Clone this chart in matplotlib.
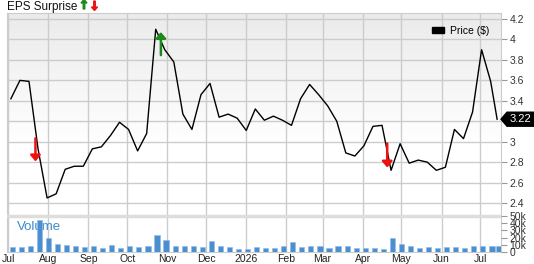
import datetime as dt
import numpy as np
import matplotlib
matplotlib.use("Agg")
import matplotlib.pyplot as plt
from matplotlib.patches import Patch, Polygon, FancyArrow
from matplotlib.colors import LinearSegmentedColormap

plt.rcParams['font.family'] = ['Liberation Sans', 'DejaVu Sans']

# weekly closes, last point is the latest price
start = dt.date(2025, 7, 3)
price = [3.42, 3.60, 3.59, 2.93, 2.45, 2.49, 2.73, 2.76, 2.76, 2.93,
         2.95, 3.06, 3.19, 3.12, 2.91, 3.08, 4.10, 3.90, 3.78, 3.27,
         3.12, 3.46, 3.57, 3.24, 3.27, 3.23, 3.11, 3.32, 3.21, 3.25,
         3.21, 3.16, 3.42, 3.56, 3.46, 3.35, 3.20, 2.89, 2.86, 2.96,
         3.15, 3.16, 2.72, 2.98, 2.79, 2.82, 2.80, 2.72, 2.75, 3.12,
         3.03, 3.29, 3.90, 3.59, 3.22]
volume = [7, 7, 9, 45, 19.5, 11, 10, 9, 7, 8,
          6, 10, 6, 8, 7, 8, 23, 17, 9, 8,
          9, 7, 15, 8.5, 7, 4, 4, 7, 5, 6,
          8.5, 14, 6.5, 8, 8, 5.5, 8.5, 9, 6, 5,
          5, 4.5, 20, 10.5, 8, 5.5, 6.5, 5, 7, 7,
          5, 8, 8, 8, 9]  # thousands
dates = [start + dt.timedelta(days=7 * i) for i in range(len(price) - 1)]
dates.append(dt.date(2026, 7, 14))
last_price = 3.22

# EPS surprise arrows: (date, from, to, colour)
eps = [(dt.date(2025, 7, 22), 3.06, 2.78, '#ee1111'),
       (dt.date(2025, 10, 27), 3.82, 4.10, '#1a8a1a'),
       (dt.date(2026, 4, 20), 3.01, 2.72, '#ee1111')]

months = [dt.date(2025, m, 1) for m in range(7, 13)] + [dt.date(2026, m, 1) for m in range(1, 8)]
month_labels = ['Jul', 'Aug', 'Sep', 'Oct', 'Nov', 'Dec', '2026',
                'Feb', 'Mar', 'Apr', 'May', 'Jun', 'Jul']
price_ticks = [2.4, 2.6, 2.8, 3, 3.2, 3.4, 3.6, 3.8, 4, 4.2]
vol_ticks = [0, 10, 20, 30, 40, 50]

fig = plt.figure(figsize=(5.34, 2.64), dpi=100)
ax = fig.add_axes([7 / 534, 12 / 264, 494 / 534, 239 / 264])

# background: light gray at the top fading to white around the middle
yy = np.linspace(0, 1, 200).reshape(-1, 1)
grad = np.clip((yy - 0.45) / 0.55, 0, 1)
ax.imshow(grad, cmap=LinearSegmentedColormap.from_list('g', ['#ffffff', '#ebebeb']),
          extent=[0, 1, 0, 1], transform=ax.transAxes, aspect='auto', zorder=0,
          origin='lower', vmin=0, vmax=1)

ax.plot(dates, price, color='black', lw=1, zorder=3)
for d, y0, y1, c in eps:
    ax.annotate('', xy=(d, y1), xytext=(d, y0),
                arrowprops=dict(arrowstyle='-|>,head_width=0.3,head_length=0.35', color=c, lw=1.8),
                zorder=4)

ax.set_xlim(dt.date(2025, 6, 30), dt.date(2026, 7, 17))
ax.set_ylim(1.921, 4.259)
ax.set_xticks(months)
ax.set_xticklabels(month_labels)
ax.grid(True, color='#cccccc', lw=1, zorder=1)
for s in ax.spines.values():
    s.set_color('#cccccc')

vol = ax.twinx()
vol.bar([d + dt.timedelta(days=1) for d in dates], [v * 1000 for v in volume], width=4,
        color='#4b8fd1', edgecolor='#8fbbe6', lw=0.4, zorder=3)
vol.axhline(50000, color='#dddddd', lw=2.5, zorder=2)
vol.set_ylim(0, 332000)
vol.set_yticks([v * 1000 for v in vol_ticks])
vol.set_yticklabels(['0'] + [f'{v}k' for v in vol_ticks[1:]])
vol.tick_params(axis='y', length=4, width=0.8, color='#999999', pad=2, labelsize=7.5,
                labelcolor='#333333')
for s in vol.spines.values():
    s.set_visible(False)

# twinx moves the price ticks to the left, put them back on the right
ax.yaxis.tick_right()
ax.set_yticks(price_ticks)
ax.set_yticklabels(['' if t == 3.2 else f'{t:g}' for t in price_ticks])
ax.tick_params(axis='x', length=0, pad=1.5, labelsize=7.5, colors='#222222')
ax.tick_params(axis='y', length=4, width=0.8, color='#999999', pad=2, labelsize=7.5,
               labelcolor='#333333')

ax.text(0.02, 0.105, 'Volume', transform=ax.transAxes, color='#3d8bd0', fontsize=9.5, va='center')

# last price tag
fig.canvas.draw()
px, py = ax.transData.transform((ax.get_xlim()[1], last_price))
tag = [(px, py), (px + 6, py + 7), (px + 33, py + 7), (px + 33, py - 7), (px + 6, py - 7)]
fig.patches.append(Polygon(tag, closed=True, fc='black', ec='black', transform=None))
fig.text((px + 19.5) / 534, py / 264, f'{last_price:.2f}', color='white', fontsize=8,
         ha='center', va='center')

ax.legend(handles=[Patch(color='black', label='Price ($)')], loc='upper right',
          bbox_to_anchor=(0.995, 0.985), frameon=False, fontsize=7.5,
          handlelength=1.1, handleheight=0.5, handletextpad=0.6)

fig.text(7 / 534, 1 - 1 / 264, 'EPS Surprise', fontsize=8.5, va='top', ha='left', color='#111111')
fig.patches.append(FancyArrow(84 / 534, 1 - 9 / 264, 0, 6 / 264, width=1.5 / 534,
                              head_width=6 / 534, head_length=3.5 / 264,
                              color='#1a8a1a', transform=fig.transFigure))
fig.patches.append(FancyArrow(94.5 / 534, 1 - 1 / 264, 0, -6 / 264, width=1.5 / 534,
                              head_width=6 / 534, head_length=3.5 / 264,
                              color='#ee1111', transform=fig.transFigure))

fig.savefig('out.png', dpi=100)
